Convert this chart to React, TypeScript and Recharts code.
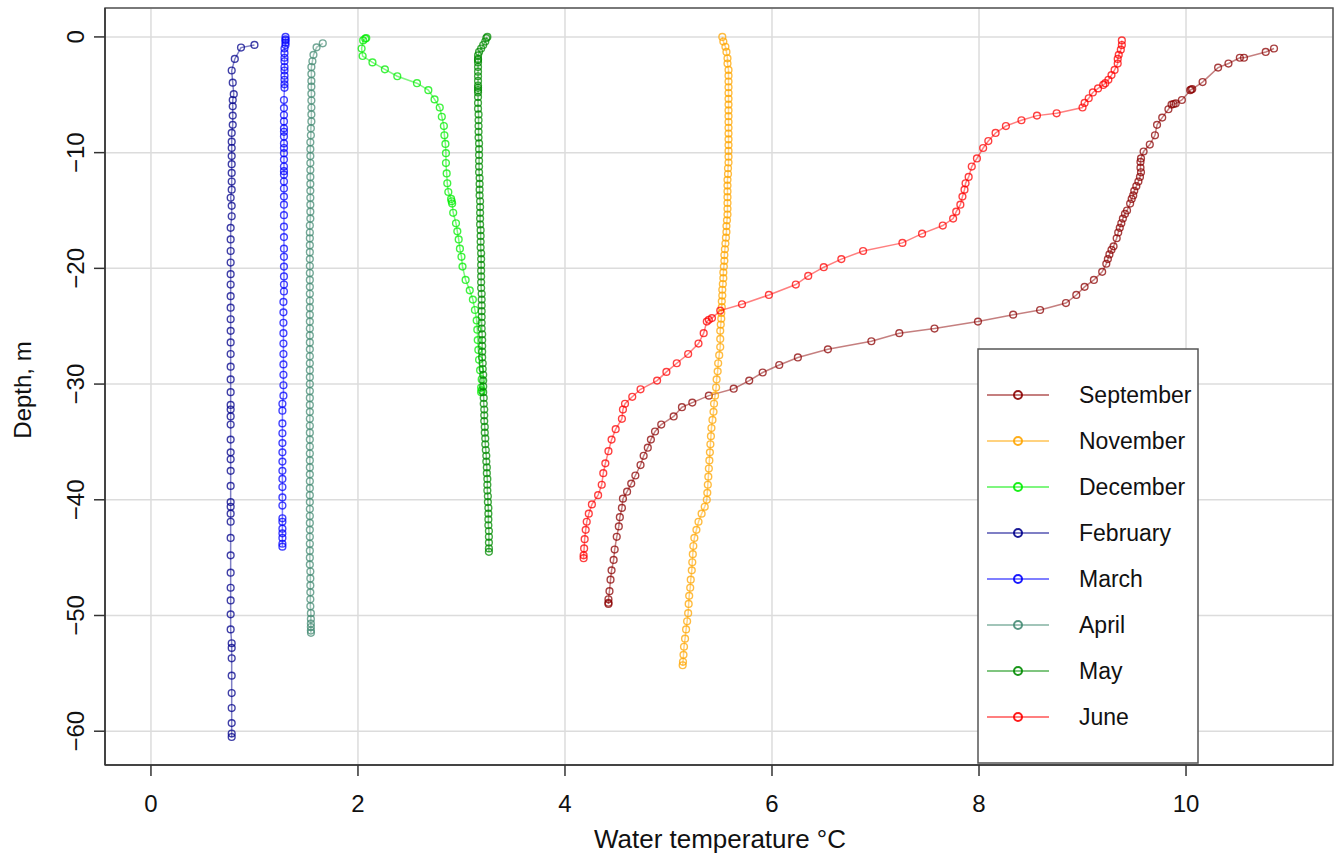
import React from "react";
import {
  ScatterChart,
  Scatter,
  XAxis,
  YAxis,
  CartesianGrid,
  Legend,
  ReferenceArea,
} from "recharts";

// [temperature °C, depth m]
type Pt = [number, number];

const september: Pt[] = [
  [10.85, -1.0], [10.77, -1.3], [10.56, -1.8], [10.52, -1.8], [10.41, -2.3], [10.31, -2.65],
  [10.16, -3.9], [10.06, -4.5], [10.04, -4.6], [10.05, -4.55], [9.96, -5.45], [9.9, -5.75],
  [9.88, -5.8], [9.86, -5.85], [9.83, -6.25], [9.77, -6.97], [9.72, -7.6], [9.7, -8.5],
  [9.65, -9.3], [9.59, -9.9], [9.565, -10.5], [9.56, -10.8], [9.56, -11.3], [9.565, -11.7],
  [9.555, -12.1], [9.54, -12.5], [9.52, -12.9], [9.5, -13.3], [9.49, -13.7], [9.475, -14.0],
  [9.46, -14.4], [9.43, -15.0], [9.41, -15.3], [9.39, -15.7], [9.375, -16.1], [9.36, -16.5],
  [9.345, -16.9], [9.33, -17.4], [9.3, -18.1], [9.28, -18.4], [9.26, -18.8], [9.245, -19.2],
  [9.23, -19.6], [9.19, -20.3], [9.11, -21.0], [9.02, -21.6], [8.94, -22.3], [8.84, -23.0],
  [8.59, -23.6], [8.33, -24.0], [7.99, -24.6], [7.57, -25.2], [7.23, -25.6], [6.96, -26.3],
  [6.54, -27.0], [6.25, -27.7], [6.07, -28.35], [5.91, -29.0], [5.78, -29.7], [5.63, -30.4],
  [5.39, -31.0], [5.23, -31.6], [5.13, -32.0], [5.05, -32.8], [4.93, -33.5], [4.87, -34.1],
  [4.83, -34.8], [4.8, -35.5], [4.76, -36.2], [4.73, -37.0], [4.68, -37.9], [4.64, -38.6],
  [4.6, -39.3], [4.56, -39.9], [4.55, -40.7], [4.53, -41.5], [4.52, -42.3], [4.5, -43.2],
  [4.48, -44.3], [4.47, -45.2], [4.45, -46.1], [4.44, -46.9], [4.43, -47.9], [4.42, -48.6],
  [4.42, -48.9], [4.42, -49.0],
];

const november: Pt[] = [
  [5.52, 0], [5.53, -0.4], [5.55, -0.85], [5.56, -1.3], [5.57, -1.85], [5.57, -2.3],
  [5.58, -2.85], [5.58, -3.35], [5.58, -3.85], [5.58, -4.35], [5.58, -4.85], [5.58, -5.35],
  [5.58, -5.85], [5.58, -6.35], [5.58, -6.85], [5.58, -7.35], [5.58, -7.85], [5.58, -8.35],
  [5.58, -8.85], [5.58, -9.35], [5.58, -9.85], [5.58, -10.35], [5.58, -10.85], [5.575, -11.35],
  [5.575, -11.85], [5.57, -12.35], [5.57, -12.85], [5.57, -13.35], [5.57, -13.85], [5.57, -14.35],
  [5.57, -14.85], [5.57, -15.35], [5.565, -15.85], [5.56, -16.35], [5.56, -16.85], [5.555, -17.35],
  [5.55, -17.85], [5.545, -18.35], [5.54, -18.85], [5.54, -19.35], [5.535, -19.85], [5.53, -20.35],
  [5.53, -20.85], [5.525, -21.35], [5.52, -21.85], [5.52, -22.35], [5.515, -22.85], [5.515, -23.35],
  [5.51, -23.85], [5.51, -24.35], [5.505, -24.85], [5.5, -25.4], [5.5, -26.1], [5.5, -26.8],
  [5.49, -27.5], [5.48, -28.2], [5.475, -28.9], [5.465, -29.6], [5.46, -30.3], [5.45, -31.0],
  [5.44, -31.7], [5.435, -32.4], [5.425, -33.1], [5.415, -33.8], [5.41, -34.5], [5.405, -35.2],
  [5.4, -35.9], [5.395, -36.6], [5.39, -37.3], [5.385, -38.0], [5.38, -38.7], [5.375, -39.4],
  [5.37, -40.0], [5.35, -40.6], [5.32, -41.2], [5.29, -41.9], [5.27, -42.6], [5.25, -43.3],
  [5.24, -44.0], [5.235, -44.7], [5.23, -45.4], [5.225, -46.1], [5.215, -46.9], [5.21, -47.6],
  [5.2, -48.3], [5.195, -49.0], [5.19, -49.8], [5.18, -50.5], [5.17, -51.2], [5.16, -52.0],
  [5.15, -52.7], [5.145, -53.4], [5.14, -54.0], [5.137, -54.3],
];

const december: Pt[] = [
  [2.08, -0.1], [2.07, -0.15], [2.05, -0.3], [2.035, -1.0], [2.045, -1.65], [2.14, -2.2],
  [2.26, -2.8], [2.38, -3.4], [2.57, -4.0], [2.68, -4.6], [2.74, -5.4], [2.79, -6.1],
  [2.81, -6.9], [2.83, -7.7], [2.835, -8.5], [2.845, -9.25], [2.85, -10.05], [2.85, -10.9],
  [2.857, -11.8], [2.863, -12.65], [2.873, -13.4], [2.9, -14.0], [2.905, -14.2], [2.91, -14.4],
  [2.92, -15.2], [2.947, -16.1], [2.96, -16.8], [2.973, -17.5], [2.985, -18.3], [3.0, -19.0],
  [3.01, -19.85], [3.04, -21.0], [3.08, -21.9], [3.11, -22.7], [3.13, -23.6], [3.147, -24.5],
  [3.153, -25.3], [3.157, -26.2], [3.163, -27.05], [3.17, -27.9], [3.18, -28.8], [3.195, -29.6],
  [3.19, -30.3], [3.195, -30.55], [3.19, -30.7],
];

const february: Pt[] = [
  [1.0, -0.69], [0.87, -0.92], [0.81, -1.9], [0.78, -2.9], [0.79, -3.95], [0.8, -4.95],
  [0.79, -5.45], [0.79, -6.0], [0.79, -6.8], [0.79, -7.6], [0.78, -8.3], [0.78, -9.05],
  [0.78, -9.6], [0.78, -10.3], [0.78, -11.0], [0.78, -11.75], [0.78, -12.5], [0.78, -13.2],
  [0.77, -13.9], [0.78, -14.6], [0.78, -15.5], [0.77, -16.5], [0.77, -17.5], [0.77, -18.5],
  [0.77, -19.5], [0.77, -20.5], [0.77, -21.4], [0.77, -22.4], [0.77, -23.4], [0.77, -24.4],
  [0.77, -25.4], [0.77, -26.4], [0.77, -27.4], [0.77, -28.5], [0.77, -29.6], [0.77, -30.7],
  [0.77, -31.8], [0.77, -32.2], [0.77, -32.8], [0.77, -33.5], [0.77, -34.8], [0.77, -35.9],
  [0.77, -36.5], [0.77, -37.5], [0.77, -38.8], [0.77, -40.2], [0.77, -40.6], [0.77, -41.2],
  [0.77, -41.9], [0.77, -43.3], [0.77, -44.8], [0.77, -46.3], [0.77, -47.6], [0.77, -48.7],
  [0.77, -49.9], [0.77, -51.2], [0.78, -52.4], [0.78, -52.8], [0.78, -53.7], [0.78, -55.2],
  [0.78, -56.7], [0.78, -58.0], [0.78, -59.3], [0.78, -60.2], [0.78, -60.5],
];

const march: Pt[] = [
  [1.3, 0], [1.3, -0.2], [1.3, -0.3], [1.3, -0.5], [1.3, -0.7], [1.29, -1.0], [1.29, -1.4],
  [1.29, -1.8], [1.29, -2.1], [1.29, -2.6], [1.29, -2.9], [1.29, -3.35], [1.29, -3.7],
  [1.29, -4.1], [1.29, -4.4], [1.285, -5.45], [1.285, -6.15], [1.285, -6.75], [1.285, -7.3],
  [1.285, -7.9], [1.285, -8.2], [1.285, -8.6], [1.285, -9.2], [1.285, -9.6], [1.285, -10.05],
  [1.285, -10.6], [1.285, -11.2], [1.285, -11.6], [1.285, -11.9], [1.285, -12.5], [1.285, -13.1],
  [1.285, -13.8], [1.285, -14.5], [1.285, -15.4], [1.285, -16.4], [1.285, -17.3], [1.285, -18.3],
  [1.285, -19.0], [1.285, -19.85], [1.285, -20.7], [1.285, -21.4], [1.285, -22.0], [1.28, -22.9],
  [1.28, -23.8], [1.28, -24.7], [1.28, -25.6], [1.28, -26.5], [1.28, -27.4], [1.28, -28.3],
  [1.28, -29.2], [1.28, -30.1], [1.28, -31.0], [1.27, -31.7], [1.27, -32.3], [1.27, -33.4],
  [1.27, -34.25], [1.27, -35.1], [1.27, -35.9], [1.27, -36.7], [1.27, -37.5], [1.27, -38.2],
  [1.27, -38.9], [1.27, -39.8], [1.27, -40.5], [1.27, -41.6], [1.27, -41.9], [1.27, -42.5],
  [1.27, -42.9], [1.27, -43.3], [1.27, -43.8], [1.27, -44.05],
];

const april: Pt[] = [
  [1.66, -0.55], [1.6, -0.9], [1.57, -1.55], [1.56, -2.1], [1.55, -2.6], [1.55, -3.2],
  [1.55, -3.8], [1.55, -4.3], [1.55, -4.9], [1.55, -5.5], [1.55, -6.1], [1.55, -6.7],
  [1.55, -7.3], [1.545, -7.9], [1.545, -8.5], [1.54, -9.1], [1.54, -9.7], [1.54, -10.3],
  [1.54, -10.9], [1.54, -11.5], [1.54, -12.1], [1.54, -12.7], [1.54, -13.3], [1.54, -13.9],
  [1.54, -14.5], [1.54, -15.1], [1.54, -15.7], [1.535, -16.3], [1.535, -16.9], [1.535, -17.4],
  [1.535, -18.0], [1.535, -18.6], [1.535, -19.2], [1.535, -19.8], [1.535, -20.4], [1.535, -21.0],
  [1.535, -21.6], [1.535, -22.2], [1.535, -22.8], [1.535, -23.4], [1.535, -24.0], [1.535, -24.6],
  [1.535, -25.2], [1.535, -25.8], [1.535, -26.4], [1.535, -27.0], [1.535, -27.6], [1.535, -28.2],
  [1.535, -28.8], [1.535, -29.4], [1.535, -30.0], [1.535, -30.6], [1.535, -31.2], [1.535, -31.8],
  [1.535, -32.4], [1.535, -33.0], [1.535, -33.6], [1.535, -34.2], [1.535, -34.8], [1.535, -35.4],
  [1.535, -36.0], [1.535, -36.6], [1.535, -37.2], [1.535, -37.8], [1.535, -38.4], [1.535, -39.0],
  [1.535, -39.6], [1.535, -40.2], [1.535, -40.8], [1.535, -41.4], [1.535, -42.0], [1.535, -42.6],
  [1.535, -43.2], [1.535, -43.8], [1.535, -44.4], [1.535, -45.0], [1.535, -45.6], [1.54, -46.2],
  [1.54, -46.8], [1.54, -47.4], [1.54, -48.0], [1.54, -48.6], [1.54, -49.2], [1.545, -49.8],
  [1.545, -50.3], [1.545, -50.7], [1.545, -51.0], [1.545, -51.3], [1.546, -51.5],
];

const may: Pt[] = [
  [3.25, 0], [3.24, -0.1], [3.23, -0.4], [3.21, -0.7], [3.19, -1.0], [3.17, -1.3], [3.16, -1.6],
  [3.16, -1.9], [3.16, -2.0], [3.16, -2.2], [3.16, -2.6], [3.16, -3.0], [3.16, -3.4], [3.16, -3.8],
  [3.16, -4.2], [3.16, -4.4], [3.16, -4.6], [3.16, -4.8], [3.16, -5.2], [3.16, -5.7], [3.16, -6.2],
  [3.165, -6.7], [3.165, -7.2], [3.165, -7.7], [3.165, -8.2], [3.165, -8.7], [3.17, -9.2],
  [3.17, -9.7], [3.17, -10.2], [3.17, -10.7], [3.17, -11.2], [3.17, -11.7], [3.175, -12.2],
  [3.175, -12.7], [3.175, -13.2], [3.175, -13.7], [3.18, -14.2], [3.18, -14.7], [3.18, -15.2],
  [3.18, -15.7], [3.18, -16.2], [3.185, -16.7], [3.185, -17.2], [3.185, -17.7], [3.185, -18.2],
  [3.19, -18.7], [3.19, -19.2], [3.19, -19.7], [3.19, -20.2], [3.19, -20.7], [3.19, -21.2],
  [3.19, -21.7], [3.195, -22.2], [3.195, -22.7], [3.195, -23.2], [3.195, -23.7], [3.195, -24.2],
  [3.195, -24.7], [3.195, -25.2], [3.2, -25.7], [3.2, -26.2], [3.2, -26.7], [3.2, -27.2],
  [3.2, -27.7], [3.205, -28.2], [3.205, -28.7], [3.21, -29.2], [3.21, -29.7], [3.21, -30.2],
  [3.21, -30.7], [3.215, -31.2], [3.215, -31.7], [3.22, -32.2], [3.22, -32.7], [3.22, -33.2],
  [3.225, -33.7], [3.225, -34.2], [3.23, -34.7], [3.23, -35.2], [3.235, -35.7], [3.24, -36.2],
  [3.24, -36.7], [3.245, -37.2], [3.245, -37.7], [3.25, -38.2], [3.25, -38.7], [3.25, -39.2],
  [3.255, -39.7], [3.255, -40.2], [3.26, -40.7], [3.26, -41.2], [3.26, -41.7], [3.26, -42.2],
  [3.265, -42.7], [3.265, -43.2], [3.265, -43.7], [3.265, -44.2], [3.265, -44.5],
];

const june: Pt[] = [
  [9.38, -0.3], [9.38, -0.7], [9.37, -1.1], [9.35, -1.55], [9.34, -1.9], [9.34, -2.3],
  [9.31, -2.85], [9.28, -3.3], [9.25, -3.7], [9.22, -4.0], [9.2, -4.15], [9.15, -4.45],
  [9.1, -4.8], [9.06, -5.3], [9.02, -5.7], [9.0, -6.1], [8.75, -6.6], [8.56, -6.8],
  [8.41, -7.2], [8.26, -7.7], [8.16, -8.3], [8.09, -9.0], [8.04, -9.6], [7.98, -10.5],
  [7.93, -11.2], [7.9, -12.1], [7.87, -12.65], [7.86, -13.2], [7.84, -13.8], [7.82, -14.5],
  [7.78, -15.1], [7.75, -15.7], [7.65, -16.3], [7.45, -17.0], [7.26, -17.8], [6.88, -18.5],
  [6.67, -19.2], [6.5, -19.9], [6.35, -20.65], [6.23, -21.4], [5.97, -22.3], [5.71, -23.1],
  [5.5, -23.65], [5.42, -24.3], [5.39, -24.45], [5.37, -24.6], [5.34, -25.6], [5.29, -26.5],
  [5.19, -27.4], [5.08, -28.2], [4.98, -28.95], [4.89, -29.7], [4.73, -30.45], [4.65, -31.1],
  [4.58, -31.7], [4.56, -32.2], [4.55, -33.0], [4.49, -33.9], [4.45, -34.8], [4.42, -35.8],
  [4.39, -36.85], [4.37, -37.7], [4.355, -38.7], [4.32, -39.6], [4.26, -40.4], [4.23, -41.2],
  [4.21, -41.9], [4.2, -42.6], [4.19, -43.4], [4.185, -44.2], [4.18, -44.8], [4.18, -45.05],
];

const series = [
  { name: "September", color: "#8B0000", data: september },
  { name: "November", color: "#FFA500", data: november },
  { name: "December", color: "#00EE00", data: december },
  { name: "February", color: "#00008B", data: february },
  { name: "March", color: "#0000FF", data: march },
  { name: "April", color: "#458B74", data: april },
  { name: "May", color: "#008B00", data: may },
  { name: "June", color: "#FF0000", data: june },
];

const xTicks = [0, 2, 4, 6, 8, 10];
const yTicks = [0, -10, -20, -30, -40, -50, -60];
const xDomain: [number, number] = [-0.444, 11.42];
const yDomain: [number, number] = [-62.92, 2.5];

const FONT = "'Liberation Sans', Arial, Helvetica, sans-serif";
const AXIS = "#333";

const toRows = (pts: Pt[]) => pts.map(([t, d]) => ({ t, d }));

function YTick(props: any) {
  const { y, payload } = props;
  return (
    <text
      x={76}
      y={y}
      transform={`rotate(-90 76 ${y})`}
      textAnchor="middle"
      dominantBaseline="central"
      fontSize={24}
      fontFamily={FONT}
      fill="#111"
    >
      {String(payload.value).replace("-", "\u2212")}
    </text>
  );
}

function LegendBox() {
  return (
    <svg width={222} height={416} style={{ display: "block" }}>
      <rect x={1} y={1} width={220} height={414} fill="#fff" stroke="#555" strokeWidth={1.5} />
      {series.map((s, i) => {
        const cy = 47 + i * 46;
        return (
          <g key={s.name}>
            <line x1={10} x2={72} y1={cy} y2={cy} stroke={s.color} strokeOpacity={0.5} strokeWidth={2} />
            <circle cx={41} cy={cy} r={4} fill="none" stroke={s.color} strokeWidth={2} strokeOpacity={0.9} />
            <text
              x={102}
              y={cy}
              dominantBaseline="central"
              fontSize={23}
              fontFamily={FONT}
              fill="#111"
            >
              {s.name}
            </text>
          </g>
        );
      })}
    </svg>
  );
}

export default function App() {
  return (
    <div style={{ position: "absolute", left: 0, top: 0, background: "#fff" }}>
      <ScatterChart
        width={1335}
        height={856}
        margin={{ top: 8, right: 2, bottom: 0, left: 0 }}
      >
        <CartesianGrid stroke="#dcdcdc" strokeWidth={1.5} />
        <XAxis
          type="number"
          dataKey="t"
          domain={xDomain}
          ticks={xTicks}
          allowDataOverflow
          interval={0}
          height={91}
          tickSize={11}
          tickMargin={19}
          axisLine={{ stroke: AXIS, strokeWidth: 1.5 }}
          tickLine={{ stroke: AXIS, strokeWidth: 1.5 }}
          tick={{ fontSize: 24, fontFamily: FONT, fill: "#111" }}
          label={() => (
            <text
              x={720}
              y={848}
              textAnchor="middle"
              fontSize={25}
              fontFamily={FONT}
              fill="#111"
              textLength={252}
              lengthAdjust="spacingAndGlyphs"
            >
              Water temperature °C
            </text>
          )}
        />
        <YAxis
          type="number"
          dataKey="d"
          domain={yDomain}
          ticks={yTicks}
          allowDataOverflow
          interval={0}
          width={105}
          tickSize={11}
          axisLine={{ stroke: AXIS, strokeWidth: 1.5 }}
          tickLine={{ stroke: AXIS, strokeWidth: 1.5 }}
          tick={<YTick />}
          label={() => (
            <text
              x={22}
              y={390}
              transform="rotate(-90 22 390)"
              textAnchor="middle"
              dominantBaseline="central"
              fontSize={24}
              fontFamily={FONT}
              fill="#111"
            >
              Depth, m
            </text>
          )}
        />
        <ReferenceArea
          x1={xDomain[0]}
          x2={xDomain[1]}
          y1={yDomain[0]}
          y2={yDomain[1]}
          fill="none"
          stroke="#555"
          strokeWidth={1.5}
          ifOverflow="visible"
        />
        {series.map((s) => (
          <Scatter
            key={s.name}
            name={s.name}
            data={toRows(s.data)}
            fill={s.color}
            isAnimationActive={false}
            line={{ stroke: s.color, strokeWidth: 1.5, strokeOpacity: 0.5 }}
            shape={(p: any) => (
              <circle
                cx={p.cx}
                cy={p.cy}
                r={3.4}
                fill="none"
                stroke={s.color}
                strokeWidth={1.4}
                strokeOpacity={0.75}
              />
            )}
          />
        ))}
        <Legend
          layout="vertical"
          align="center"
          verticalAlign="middle"
          wrapperStyle={{ position: "absolute", left: 977, top: 348, width: 222, height: 416 }}
          content={() => <LegendBox />}
        />
      </ScatterChart>
    </div>
  );
}
